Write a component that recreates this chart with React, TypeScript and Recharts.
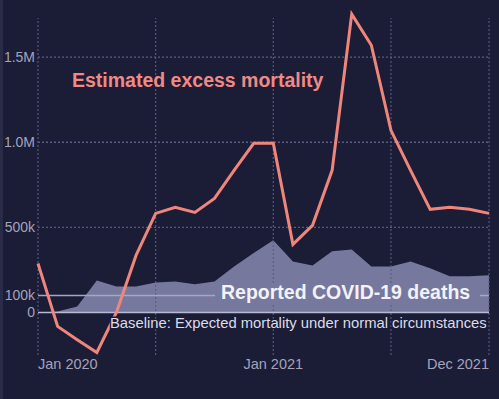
import React from "react";
import {
  ComposedChart,
  Line,
  Area,
  XAxis,
  YAxis,
  ReferenceLine,
} from "recharts";

const months = [
  "Jan 2020", "Feb 2020", "Mar 2020", "Apr 2020", "May 2020", "Jun 2020",
  "Jul 2020", "Aug 2020", "Sep 2020", "Oct 2020", "Nov 2020", "Dec 2020",
  "Jan 2021", "Feb 2021", "Mar 2021", "Apr 2021", "May 2021", "Jun 2021",
  "Jul 2021", "Aug 2021", "Sep 2021", "Oct 2021", "Nov 2021", "Dec 2021",
];

const excessMortality = [
  288000, -82000, -160000, -235000, 0, 335000, 582000, 618000, 588000,
  670000, 835000, 994000, 994000, 400000, 512000, 835000, 1753000, 1570000,
  1070000, 835000, 606000, 618000, 606000, 582000,
];

const reportedDeaths = [
  0, 6000, 35000, 188000, 153000, 153000, 176000, 182000, 165000, 182000,
  270000, 350000, 424000, 300000, 276000, 359000, 370000, 270000, 270000,
  300000, 259000, 212000, 212000, 218000,
];

const xTickIndex = [0, 12, 23];
const xGridIndex = [0, 6, 12, 18, 23];
const yTicks = [0, 100000, 500000, 1000000, 1500000];
const yTickLabels = ["0", "100k", "500k", "1.0M", "1.5M"];
const yGridDotted = [500000, 1000000, 1500000];

const data = months.map((m, i) => ({
  idx: i,
  month: m,
  excess: excessMortality[i],
  reported: reportedDeaths[i],
}));

const BG = "#1b1c36";
const AREA = "#76789d";
const PINK = "#ef867b";
const GRID = "#5a5d82";
const TICK = "#a3a4bb";
const FONT = "'Liberation Sans', Arial, Helvetica, sans-serif";

const XTick = (props: any) => {
  const { x, y, payload } = props;
  const i = payload.value as number;
  const anchor = i === 0 ? "start" : i === months.length - 1 ? "end" : "middle";
  return (
    <text x={x} y={y + 14} textAnchor={anchor} fill={TICK} fontSize={14.5} fontFamily={FONT}>
      {months[i]}
    </text>
  );
};

const YTick = (props: any) => {
  const { x, y, payload } = props;
  const k = yTicks.indexOf(payload.value);
  return (
    <text x={x - 3} y={y} dy="0.36em" textAnchor="end" fill={TICK} fontSize={14} fontFamily={FONT}>
      {yTickLabels[k]}
    </text>
  );
};

export default function App() {
  return (
    <div
      style={{
        position: "absolute",
        left: 0,
        top: 0,
        width: 499,
        height: 399,
        background: BG,
        overflow: "hidden",
      }}
    >
      <div style={{ position: "absolute", left: 0, top: 0, width: 3, height: 399, background: "#2a2b46" }} />
      <ComposedChart
        width={499}
        height={399}
        data={data}
        margin={{ top: 10, right: 10, bottom: 0, left: 0 }}
      >
        <XAxis
          dataKey="idx"
          type="number"
          domain={[0, 23]}
          ticks={xTickIndex}
          tick={<XTick />}
          axisLine={false}
          tickLine={false}
          tickSize={0}
          tickMargin={0}
          height={44}
          interval={0}
        />
        <YAxis
          type="number"
          domain={[-250000, 1777000]}
          ticks={yTicks}
          tick={<YTick />}
          axisLine={false}
          tickLine={false}
          tickSize={0}
          tickMargin={0}
          width={38}
          interval={0}
        />
        {yGridDotted.map((v) => (
          <ReferenceLine key={"h" + v} y={v} stroke={GRID} strokeWidth={1.3} strokeDasharray="2 2" />
        ))}
        <Area
          dataKey="reported"
          type="linear"
          fill={AREA}
          fillOpacity={1}
          stroke="none"
          baseValue={0}
          isAnimationActive={false}
        />
        {xGridIndex.map((m) => (
          <ReferenceLine
            key={"v" + m}
            segment={[
              { x: m, y: -250000 },
              { x: m, y: 1730000 },
            ]}
            stroke={GRID}
            strokeOpacity={0.85}
            strokeWidth={1.3}
            strokeDasharray="2 2"
          />
        ))}
        <ReferenceLine y={100000} stroke="#a4a6c3" strokeWidth={1.5} />
        <ReferenceLine y={0} stroke="#b8bad3" strokeWidth={1.5} />
        <Line
          dataKey="excess"
          type="linear"
          stroke={PINK}
          strokeWidth={3}
          dot={false}
          isAnimationActive={false}
        />
      </ComposedChart>
      <svg
        width={499}
        height={399}
        style={{ position: "absolute", left: 0, top: 0, pointerEvents: "none" }}
      >
        <text x={72} y={87} fill="#f08a84" fontSize={19.5} fontWeight="bold" fontFamily={FONT}>
          Estimated excess mortality
        </text>
        <rect x={215} y={285} width={265} height={19} fill={AREA} />
        <text x={221} y={299} fill="#f2f2f8" fontSize={19.5} fontWeight="bold" fontFamily={FONT}>
          Reported COVID-19 deaths
        </text>
        <text
          x={110}
          y={328}
          fill="#dcdde9"
          fontSize={14.8}
          fontFamily={FONT}
          stroke={BG}
          strokeWidth={3}
          paintOrder="stroke"
        >
          Baseline: Expected mortality under normal circumstances
        </text>
      </svg>
    </div>
  );
}
